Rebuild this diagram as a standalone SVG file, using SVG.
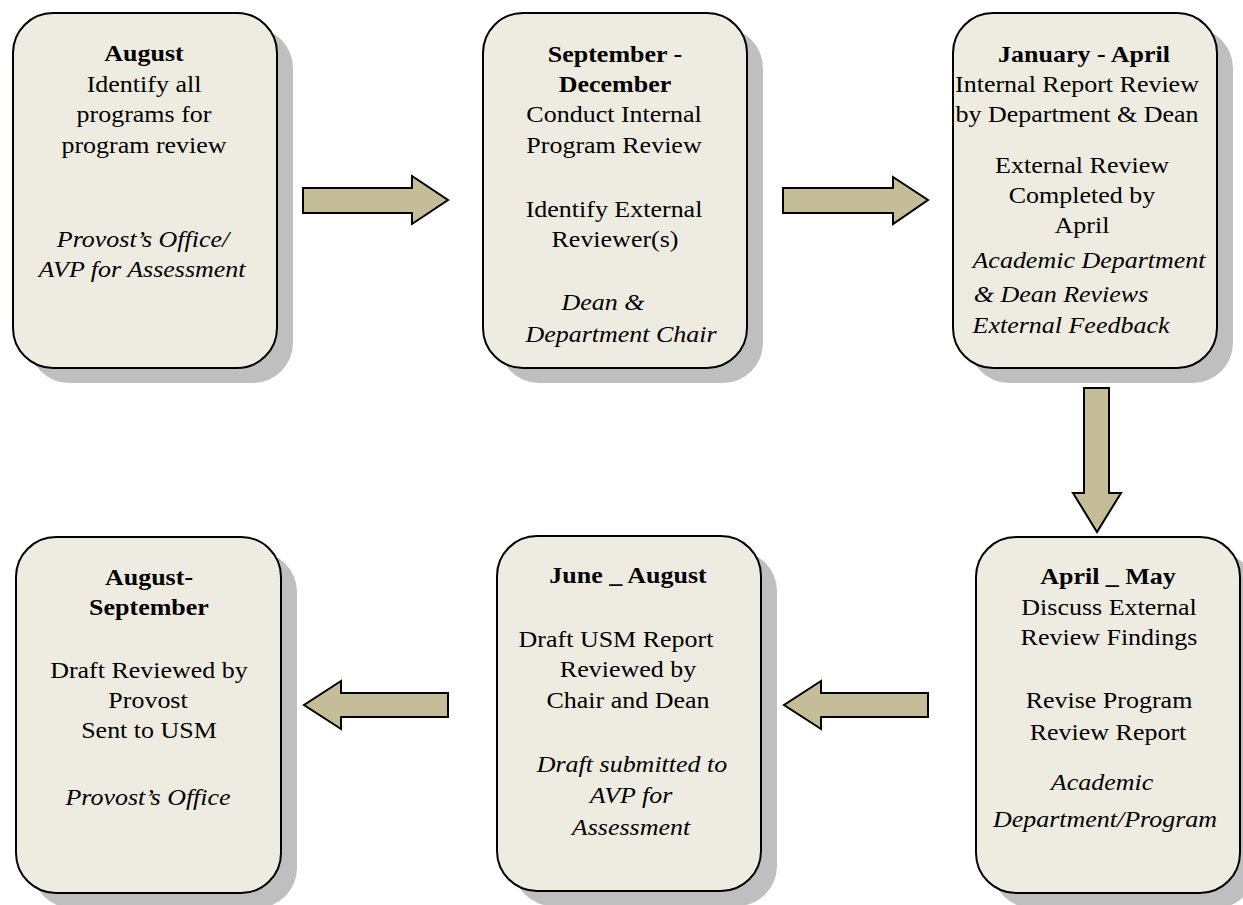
<svg xmlns="http://www.w3.org/2000/svg" width="1243" height="905" viewBox="0 0 1243 905">
<style>
.shadow{fill:#bfbfbf}
.box{fill:#eeece1;stroke:#000;stroke-width:2}
.arrow{fill:#c4bd97;stroke:#000;stroke-width:2;stroke-linejoin:miter}
text{font-family:"Liberation Serif","Times New Roman",serif;font-size:23px;fill:#000;text-anchor:middle}
.b{font-weight:bold}
.i{font-style:italic}
</style>
<rect width="1243" height="905" fill="#fff"/>
<g id="node-august">
<rect class="shadow" x="29" y="28" width="264" height="355" rx="40"/>
<rect class="box" x="13" y="13" width="264" height="355" rx="40"/>
<text class="b" transform="translate(144 0) scale(1.13 1)" y="61">August</text>
<text transform="translate(144 0) scale(1.13 1)" y="92">Identify all</text>
<text transform="translate(144 0) scale(1.13 1)" y="122">programs for</text>
<text transform="translate(144 0) scale(1.13 1)" y="153">program review</text>
<text class="i" transform="translate(143 0) scale(1.13 1)" y="247">Provost’s Office/</text>
<text class="i" transform="translate(142 0) scale(1.13 1)" y="277">AVP for Assessment</text>
</g>
<g id="node-sep-dec">
<rect class="shadow" x="499" y="28" width="264" height="355" rx="40"/>
<rect class="box" x="483" y="13" width="264" height="355" rx="40"/>
<text class="b" transform="translate(615 0) scale(1.13 1)" y="62">September -</text>
<text class="b" transform="translate(615 0) scale(1.13 1)" y="92">December</text>
<text transform="translate(614 0) scale(1.13 1)" y="122">Conduct Internal</text>
<text transform="translate(614 0) scale(1.13 1)" y="153">Program Review</text>
<text transform="translate(614 0) scale(1.13 1)" y="217">Identify External</text>
<text transform="translate(615 0) scale(1.13 1)" y="247">Reviewer(s)</text>
<text class="i" transform="translate(603 0) scale(1.13 1)" y="310">Dean &amp;</text>
<text class="i" transform="translate(621 0) scale(1.13 1)" y="342">Department Chair</text>
</g>
<g id="node-jan-apr">
<rect class="shadow" x="969" y="28" width="264" height="355" rx="40"/>
<rect class="box" x="953" y="13" width="264" height="355" rx="40"/>
<text class="b" transform="translate(1084 0) scale(1.13 1)" y="62">January - April</text>
<text transform="translate(1077 0) scale(1.13 1)" y="92">Internal Report Review</text>
<text transform="translate(1077 0) scale(1.13 1)" y="122">by Department &amp; Dean</text>
<text transform="translate(1082 0) scale(1.13 1)" y="173">External Review</text>
<text transform="translate(1082 0) scale(1.13 1)" y="203">Completed by</text>
<text transform="translate(1082 0) scale(1.13 1)" y="233">April</text>
<text class="i" transform="translate(1089 0) scale(1.13 1)" y="268">Academic Department</text>
<text class="i" transform="translate(1061 0) scale(1.13 1)" y="302">&amp; Dean Reviews</text>
<text class="i" transform="translate(1071 0) scale(1.13 1)" y="333">External Feedback</text>
</g>
<g id="node-apr-may">
<rect class="shadow" x="992" y="552" width="264" height="356" rx="40"/>
<rect class="box" x="976" y="537" width="264" height="356" rx="40"/>
<text class="b" transform="translate(1108 0) scale(1.13 1)" y="584">April _ May</text>
<text transform="translate(1109 0) scale(1.13 1)" y="615">Discuss External</text>
<text transform="translate(1109 0) scale(1.13 1)" y="645">Review Findings</text>
<text transform="translate(1109 0) scale(1.13 1)" y="708">Revise Program</text>
<text transform="translate(1108 0) scale(1.13 1)" y="740">Review Report</text>
<text class="i" transform="translate(1102 0) scale(1.13 1)" y="790">Academic</text>
<text class="i" transform="translate(1105 0) scale(1.13 1)" y="827">Department/Program</text>
</g>
<g id="node-jun-aug">
<rect class="shadow" x="513" y="551" width="264" height="355" rx="40"/>
<rect class="box" x="497" y="536" width="264" height="355" rx="40"/>
<text class="b" transform="translate(628 0) scale(1.13 1)" y="583">June _ August</text>
<text transform="translate(616 0) scale(1.13 1)" y="647">Draft USM Report</text>
<text transform="translate(628 0) scale(1.13 1)" y="677">Reviewed by</text>
<text transform="translate(628 0) scale(1.13 1)" y="708">Chair and Dean</text>
<text class="i" transform="translate(632 0) scale(1.13 1)" y="772">Draft submitted to</text>
<text class="i" transform="translate(631 0) scale(1.13 1)" y="803">AVP for</text>
<text class="i" transform="translate(631 0) scale(1.13 1)" y="835">Assessment</text>
</g>
<g id="node-aug-sep">
<rect class="shadow" x="32" y="552" width="265" height="356" rx="40"/>
<rect class="box" x="16" y="537" width="265" height="356" rx="40"/>
<text class="b" transform="translate(149 0) scale(1.13 1)" y="585">August-</text>
<text class="b" transform="translate(149 0) scale(1.13 1)" y="615">September</text>
<text transform="translate(149 0) scale(1.13 1)" y="678">Draft Reviewed by</text>
<text transform="translate(148 0) scale(1.13 1)" y="708">Provost</text>
<text transform="translate(149 0) scale(1.13 1)" y="738">Sent to USM</text>
<text class="i" transform="translate(148 0) scale(1.13 1)" y="805">Provost’s Office</text>
</g>
<g id="connectors">
<polygon class="arrow" points="303,188 412,188 412,176 448,200 412,224 412,213 303,213"/>
<polygon class="arrow" points="783,188 893,188 893,177 928,200 893,224 893,213 783,213"/>
<polygon class="arrow" points="1084,388 1109,388 1109,493 1121,493 1097,532 1073,493 1084,493"/>
<polygon class="arrow" points="928,693 821,693 821,681 784,705 821,729 821,717 928,717"/>
<polygon class="arrow" points="448,693 341,693 341,681 304,705 341,729 341,717 448,717"/>
</g>
</svg>
